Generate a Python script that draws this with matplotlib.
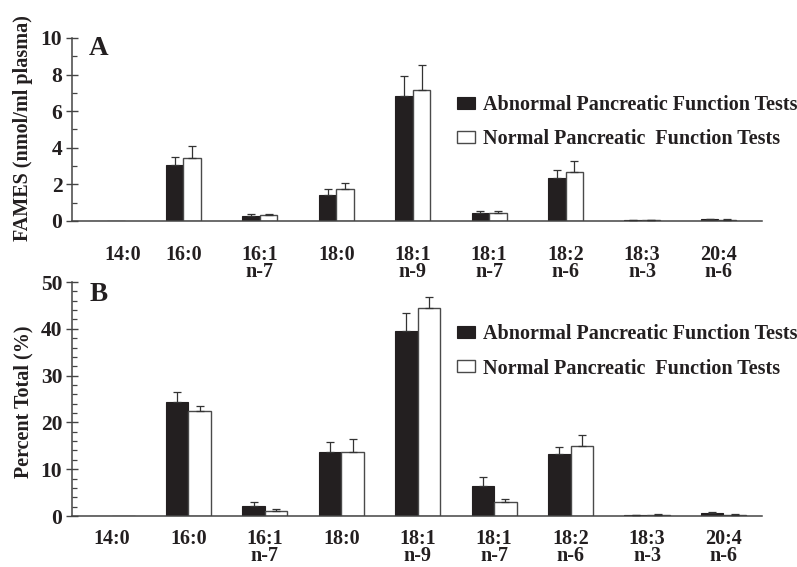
import numpy as np
import matplotlib
matplotlib.use("Agg")
import matplotlib.pyplot as plt
from matplotlib.transforms import ScaledTranslation
from matplotlib.patches import Patch

plt.rcParams['font.family'] = ['Liberation Serif', 'DejaVu Serif']
plt.rcParams['font.weight'] = 'bold'

categories = ["14:0", "16:0", "16:1\nn-7", "18:0", "18:1\nn-9", "18:1\nn-7",
              "18:2\nn-6", "18:3\nn-3", "20:4\nn-6"]

# Panel A: FAMES (nmol/ml plasma)
a_abnormal = [0.0, 3.06, 0.27, 1.42, 6.83, 0.45, 2.33, 0.05, 0.10]
a_abnormal_err = [0.0, 0.42, 0.09, 0.33, 1.09, 0.08, 0.46, 0.02, 0.03]
a_normal = [0.0, 3.43, 0.31, 1.75, 7.14, 0.46, 2.69, 0.06, 0.07]
a_normal_err = [0.0, 0.68, 0.05, 0.34, 1.38, 0.08, 0.57, 0.02, 0.02]

# Panel B: Percent Total (%)
b_abnormal = [0.0, 24.4, 2.14, 13.7, 39.6, 6.4, 13.2, 0.2, 0.65]
b_abnormal_err = [0.0, 2.2, 0.8, 2.2, 3.8, 1.9, 1.6, 0.1, 0.15]
b_normal = [0.0, 22.5, 1.14, 13.7, 44.4, 2.9, 15.0, 0.3, 0.3]
b_normal_err = [0.0, 0.9, 0.3, 2.7, 2.3, 0.7, 2.3, 0.1, 0.05]

legend_labels = ["Abnormal Pancreatic Function Tests", "Normal Pancreatic  Function Tests"]

TXT = '#231f20'
BLK = '#231f20'
EDGE = '#4a4a4a'

fig = plt.figure(figsize=(7.97, 5.67), dpi=100)
W, H = 797, 567

def px_axes(l, t, r, b):
    return fig.add_axes([l / W, 1 - b / H, (r - l) / W, (b - t) / H])

axA = px_axes(72, 38, 762, 221)
axB = px_axes(72, 282, 762, 516)

x = np.arange(len(categories))
offset = 0.23

def errbars(ax, xs, vals, errs):
    xs = np.asarray(xs, float)
    vals = np.asarray(vals, float)
    errs = np.asarray(errs, float)
    m = errs > 0
    ax.errorbar(xs[m], vals[m], yerr=[np.zeros(m.sum()), errs[m]], fmt='none',
                ecolor='#333333', elinewidth=0.9, capsize=2.6, capthick=0.9, zorder=3)

def draw(ax, ab, ab_err, no, no_err, width, ymax, major, minor, ylabel, pad, ylab_y, leg_top):
    left = x - offset
    ax.bar(left, ab, width=width, align='edge', color=BLK, edgecolor=BLK, linewidth=0.8, zorder=2)
    ax.bar(left + width, no, width=width, align='edge', color='white', edgecolor=EDGE, linewidth=1.0, zorder=2)
    errbars(ax, left + width / 2, ab, ab_err)
    errbars(ax, left + 1.5 * width, no, no_err)
    ax.set_xlim(-0.458, 8.57)
    ax.set_ylim(0, ymax)
    for s in ['top', 'right']:
        ax.spines[s].set_visible(False)
    for s in ['left', 'bottom']:
        ax.spines[s].set_color('#444444')
        ax.spines[s].set_linewidth(1.1)
    ax.set_yticks(np.arange(0, ymax + 0.01, major))
    ax.set_yticks(np.arange(0, ymax + 0.01, minor), minor=True)
    ax.tick_params(axis='y', which='major', direction='inout', length=8, width=1.0,
                   color='#444444', labelsize=15.5, labelcolor=TXT, pad=3)
    ax.tick_params(axis='y', which='minor', direction='in', length=3.5, width=0.9, color='#444444')
    ax.set_xticks(left + width)
    ax.set_xticklabels(categories)
    ax.tick_params(axis='x', length=0, labelsize=14.5, labelcolor=TXT, pad=pad)
    for lab in ax.get_xticklabels():
        lab.set_linespacing(0.82)
        lab.set_verticalalignment('top')
    fig.text(23 / W, 1 - ylab_y / H, ylabel, rotation=90, ha='center', va='center',
             fontsize=14.5, color=TXT)
    handles = [Patch(facecolor=BLK, edgecolor=BLK, linewidth=0.8),
               Patch(facecolor='white', edgecolor=EDGE, linewidth=1.0)]
    ax.legend(handles, legend_labels, loc='upper left', bbox_to_anchor=(457 / W, 1 - leg_top / H),
              bbox_transform=fig.transFigure, frameon=False, fontsize=14.5, handlelength=0.9,
              handleheight=0.52, handletextpad=0.4, labelspacing=0.72, borderpad=0,
              borderaxespad=0, labelcolor=TXT)

draw(axA, a_abnormal, a_abnormal_err, a_normal, a_normal_err, 0.23, 10, 2, 1,
     "FAMES (nmol/ml plasma)", 17.0, 128, 95)
draw(axB, b_abnormal, b_abnormal_err, b_normal, b_normal_err, 0.295, 50, 10, 2,
     "Percent Total (%)", 9.5, 402, 324)

fig.text(99 / W, 1 - 48.5 / H, "A", ha='center', va='center', fontsize=19.5, color=TXT)
fig.text(99 / W, 1 - 294.5 / H, "B", ha='center', va='center', fontsize=19.5, color=TXT)

# nudge the first category label in panel A as in the original
lab0 = axA.get_xticklabels()[0]
lab0.set_transform(lab0.get_transform() + ScaledTranslation(16 / 100, 0, fig.dpi_scale_trans))

fig.savefig("out.png", dpi=100)
